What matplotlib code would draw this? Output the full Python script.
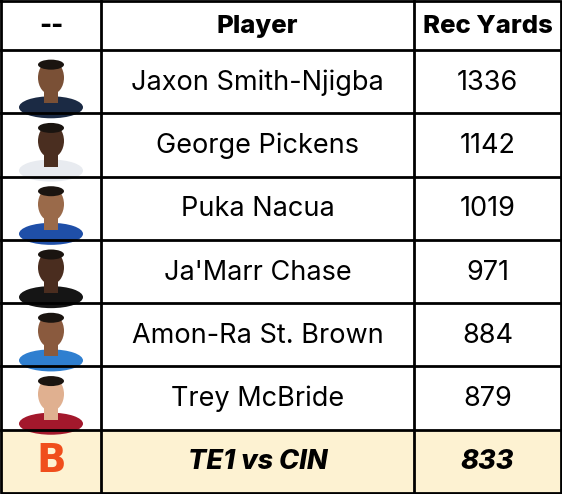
import matplotlib
matplotlib.use("Agg")
import matplotlib.pyplot as plt
from matplotlib.patches import Rectangle, Ellipse

headers = ["--", "Player", "Rec Yards"]
players = ["Jaxon Smith-Njigba", "George Pickens", "Puka Nacua", "Ja'Marr Chase",
           "Amon-Ra St. Brown", "Trey McBride", "TE1 vs CIN"]
yards = [1336, 1142, 1019, 971, 884, 879, 833]
jersey = ["#1b2a44", "#e8ebf0", "#1f4fa8", "#151515", "#2f7fd0", "#a3182c", None]
skin = ["#7a5036", "#4a2e20", "#9a6a4a", "#4a2d1f", "#8a5a3e", "#e0b090", None]

W, H = 562, 494
fig = plt.figure(figsize=(W/100, H/100), dpi=100)
ax = fig.add_axes([0, 0, 1, 1])
ax.set_xlim(0, W); ax.set_ylim(H, 0); ax.axis("off")

cols = [1, 101, 414, 561]
header_h = 49
row_h = (H - 2 - header_h) / len(players)
top = 1
font = "Inter"

ax.add_patch(Rectangle((cols[0], top + header_h + 6*row_h), cols[-1]-cols[0], row_h,
                       facecolor="#fdf2d2", edgecolor="none", zorder=0))

for i, h in enumerate(headers):
    ax.text((cols[i]+cols[i+1])/2, top + header_h/2 + 1, h, ha="center", va="center",
            fontsize=18.5, fontweight="heavy", family=font)

for r, (p, y) in enumerate(zip(players, yards)):
    y0 = top + header_h + r*row_h
    cy = y0 + row_h/2
    last = r == len(players) - 1
    kw = dict(fontsize=19.5, family=font, ha="center", va="center")
    if last:
        kw.update(fontweight="heavy", style="italic")
    ax.text((cols[1]+cols[2])/2, cy + 1, p, **kw)
    ax.text((cols[2]+cols[3])/2, cy + 1, str(y), **kw)
    cx = (cols[0]+cols[1])/2
    if jersey[r]:
        ax.add_patch(Ellipse((cx, y0 + row_h - 6), 64, 22, facecolor=jersey[r], edgecolor="none", zorder=2))
        ax.add_patch(Rectangle((cx-7, y0+row_h-22), 14, 12, facecolor=skin[r], zorder=2))
        ax.add_patch(Ellipse((cx, y0 + row_h/2 - 4), 26, 34, facecolor=skin[r], edgecolor="none", zorder=3))
        ax.add_patch(Ellipse((cx, y0 + row_h/2 - 17), 26, 10, facecolor="#1a1410", edgecolor="none", zorder=4))
    else:
        ax.text(cx, cy, "B", ha="center", va="center", fontsize=28, fontweight="bold",
                color="#f04e1c", family="DejaVu Sans")

lw = 2
ax.plot([cols[0], cols[-1], cols[-1], cols[0], cols[0]], [top, top, H-1, H-1, top], color="black", lw=lw)
for x in cols[1:-1]:
    ax.plot([x, x], [top, H-1], color="black", lw=lw)
ax.plot([cols[0], cols[-1]], [top+header_h]*2, color="black", lw=lw)
for r in range(1, len(players)):
    yy = top + header_h + r*row_h
    ax.plot([cols[0], cols[-1]], [yy, yy], color="black", lw=lw)

fig.savefig("out.png", dpi=100)
